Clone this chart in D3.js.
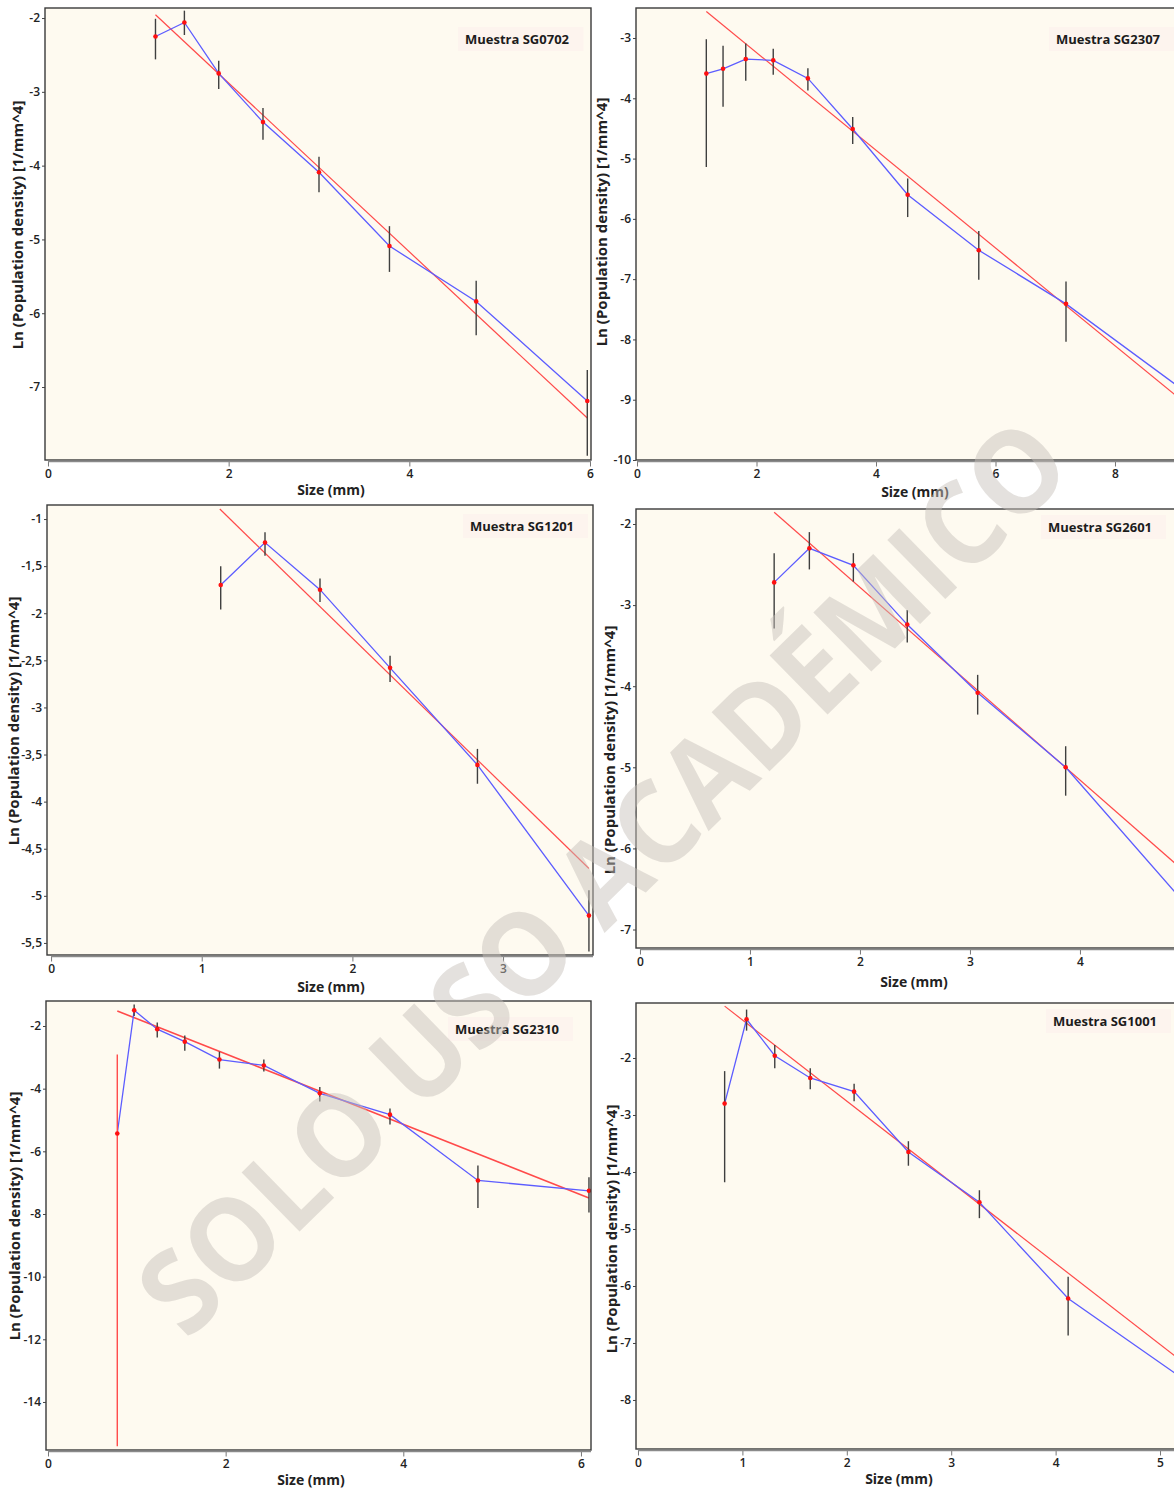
<!DOCTYPE html>
<html>
<head>
<meta charset="utf-8">
<script src="https://cdn.jsdelivr.net/npm/d3@7"></script>
<style>
  html, body { margin: 0; padding: 0; background: #ffffff; }
  svg { display: block; font-family: "Open Sans", "DejaVu Sans", sans-serif; }
</style>
</head>
<body>
<svg id="chart" width="1174" height="1491"></svg>
<script>
// ---- Crystal size distributions: ln(population density) vs size, per sample ----

// SG0702
const sizeSG0702 = [1.19, 1.51, 1.89, 2.38, 3.00, 3.78, 4.74, 5.97];
const lnSG0702   = [-2.25, -2.06, -2.75, -3.41, -4.09, -5.09, -5.84, -7.19];
const hiSG0702   = [-2.01, -1.90, -2.58, -3.22, -3.88, -4.82, -5.56, -6.77];
const loSG0702   = [-2.56, -2.23, -2.96, -3.65, -4.36, -5.44, -6.30, -7.93];
const fitSG0702  = [[1.19, -1.955], [5.97, -7.42]];
const xTicksSG0702 = [0, 2, 4, 6];
const yTicksSG0702 = [-2, -3, -4, -5, -6, -7];

// SG2307
const sizeSG2307 = [1.16, 1.44, 1.82, 2.28, 2.86, 3.61, 4.53, 5.72, 7.18, 9.40];
const lnSG2307   = [-3.59, -3.51, -3.35, -3.37, -3.67, -4.51, -5.60, -6.52, -7.41, -9.03];
const hiSG2307   = [-3.02, -3.13, -3.09, -3.18, -3.50, -4.31, -5.33, -6.20, -7.04, null];
const loSG2307   = [-5.14, -4.14, -3.71, -3.61, -3.87, -4.76, -5.97, -7.01, -8.04, null];
const fitSG2307  = [[1.16, -2.56], [9.02, -8.93]];
const xTicksSG2307 = [0, 2, 4, 6, 8];
const yTicksSG2307 = [-3, -4, -5, -6, -7, -8, -9, -10];

// SG1201
const sizeSG1201 = [1.126, 1.42, 1.785, 2.25, 2.83, 3.57];
const lnSG1201   = [-1.70, -1.25, -1.75, -2.58, -3.61, -5.21];
const hiSG1201   = [-1.50, -1.14, -1.63, -2.45, -3.44, -4.94];
const loSG1201   = [-1.96, -1.39, -1.88, -2.73, -3.81, -5.59];
const fitSG1201  = [[1.12, -0.894], [3.57, -4.71]];
const xTicksSG1201 = [0, 1, 2, 3];
const yTicksSG1201 = [-1, -1.5, -2, -2.5, -3, -3.5, -4, -4.5, -5, -5.5];

// SG2601
const sizeSG2601 = [1.22, 1.54, 1.94, 2.43, 3.07, 3.87, 5.00];
const lnSG2601   = [-2.72, -2.30, -2.51, -3.24, -4.08, -5.00, -6.75];
const hiSG2601   = [-2.36, -2.10, -2.36, -3.06, -3.86, -4.74, null];
const loSG2601   = [-3.29, -2.56, -2.71, -3.46, -4.35, -5.35, null];
const fitSG2601  = [[1.22, -1.856], [4.87, -6.19]];
const xTicksSG2601 = [0, 1, 2, 3, 4];
const yTicksSG2601 = [-2, -3, -4, -5, -6, -7];

// SG2310
const sizeSG2310 = [0.78, 0.97, 1.23, 1.54, 1.93, 2.43, 3.06, 3.85, 4.84, 6.09];
const lnSG2310   = [-5.43, -1.50, -2.10, -2.50, -3.07, -3.26, -4.15, -4.83, -6.93, -7.26];
const hiSG2310   = [-2.91, -1.31, -1.89, -2.30, -2.82, -3.07, -3.95, -4.63, -6.45, -6.83];
const loSG2310   = [-15.41, -1.68, -2.37, -2.79, -3.36, -3.45, -4.41, -5.14, -7.81, -7.95];
const fitSG2310  = [[0.78, -1.52], [6.09, -7.49]];
const xTicksSG2310 = [0, 2, 4, 6];
const yTicksSG2310 = [-2, -4, -6, -8, -10, -12, -14];

// SG1001
const sizeSG1001 = [0.83, 1.04, 1.31, 1.65, 2.07, 2.59, 3.27, 4.12, 5.40];
const lnSG1001   = [-2.80, -1.32, -1.96, -2.35, -2.59, -3.65, -4.53, -6.22, -7.86];
const hiSG1001   = [-2.23, -1.15, -1.77, -2.18, -2.45, -3.46, -4.32, -5.84, null];
const loSG1001   = [-4.18, -1.52, -2.18, -2.55, -2.76, -3.89, -4.81, -6.87, null];
const fitSG1001  = [[0.83, -1.09], [5.15, -7.24]];
const xTicksSG1001 = [0, 1, 2, 3, 4, 5];
const yTicksSG1001 = [-2, -3, -4, -5, -6, -7, -8];

const xTitle = "Size (mm)";
const yTitle = "Ln (Population density) [1/mm^4]";
const watermark = "SOLO USO ACADÉMICO";

// ---- panel layout (pixel frames, axis domains, title anchors) ----
const panels = [
  { tag: "Muestra SG0702", size: sizeSG0702, ln: lnSG0702, hi: hiSG0702, lo: loSG0702, fit: fitSG0702,
    xTicks: xTicksSG0702, yTicks: yTicksSG0702,
    frame: [45, 8, 591, 460], xDomain: [-0.033, 6.011], yDomain: [-7.989, -1.864],
    xTitleAt: [331, 490], yTitleAt: [18, 225], tagAt: [517, 39] },
  { tag: "Muestra SG2307", size: sizeSG2307, ln: lnSG2307, hi: hiSG2307, lo: loSG2307, fit: fitSG2307,
    xTicks: xTicksSG2307, yTicks: yTicksSG2307,
    frame: [636, 8, 1176, 460], xDomain: [-0.017, 9.021], yDomain: [-10.0, -2.502],
    xTitleAt: [915, 492], yTitleAt: [602, 222], tagAt: [1108, 39] },
  { tag: "Muestra SG1201", size: sizeSG1201, ln: lnSG1201, hi: hiSG1201, lo: loSG1201, fit: fitSG1201,
    xTicks: xTicksSG1201, yTicks: yTicksSG1201,
    frame: [47, 505, 593, 955], xDomain: [-0.027, 3.597], yDomain: [-5.628, -0.851],
    xTitleAt: [331, 987], yTitleAt: [14, 721], tagAt: [522, 526] },
  { tag: "Muestra SG2601", size: sizeSG2601, ln: lnSG2601, hi: hiSG2601, lo: loSG2601, fit: fitSG2601,
    xTicks: xTicksSG2601, yTicks: yTicksSG2601,
    frame: [636, 509, 1176, 948], xDomain: [-0.036, 4.873], yDomain: [-7.228, -1.815],
    xTitleAt: [914, 982], yTitleAt: [610, 750], tagAt: [1100, 527] },
  { tag: "Muestra SG2310", size: sizeSG2310, ln: lnSG2310, hi: hiSG2310, lo: loSG2310, fit: fitSG2310,
    xTicks: xTicksSG2310, yTicks: yTicksSG2310, flaggedBars: [0], fitWidth: 1.6,
    frame: [46, 1001, 591, 1450], xDomain: [-0.0225, 6.113], yDomain: [-15.533, -1.202],
    xTitleAt: [311, 1480], yTitleAt: [15, 1216], tagAt: [507, 1029] },
  { tag: "Muestra SG1001", size: sizeSG1001, ln: lnSG1001, hi: hiSG1001, lo: loSG1001, fit: fitSG1001,
    xTicks: xTicksSG1001, yTicks: yTicksSG1001,
    frame: [636, 1003, 1176, 1449], xDomain: [-0.019, 5.153], yDomain: [-8.86, -1.035],
    xTitleAt: [899, 1479], yTitleAt: [612, 1229], tagAt: [1105, 1021] }
];

const svg = d3.select("#chart");
const defs = svg.append("defs");
const fmt = d => String(d).replace(".", ",");

panels.forEach((p, i) => {
  const [left, top, right, bottom] = p.frame;
  const x = d3.scaleLinear().domain(p.xDomain).range([left, right]);
  const y = d3.scaleLinear().domain(p.yDomain).range([bottom, top]);
  const g = svg.append("g").attr("class", "panel");

  g.append("rect")
    .attr("x", left).attr("y", top)
    .attr("width", right - left).attr("height", bottom - top)
    .attr("fill", "#fefaf0");

  defs.append("clipPath").attr("id", "plot-clip-" + i)
    .append("rect")
    .attr("x", left).attr("y", top)
    .attr("width", right - left).attr("height", bottom - top);

  const plot = g.append("g").attr("clip-path", `url(#plot-clip-${i})`);

  const pts = p.size.map((s, k) => ({ s, v: p.ln[k], hi: p.hi[k], lo: p.lo[k], k }));

  // fitted straight line
  plot.append("line")
    .attr("x1", x(p.fit[0][0])).attr("y1", y(p.fit[0][1]))
    .attr("x2", x(p.fit[1][0])).attr("y2", y(p.fit[1][1]))
    .attr("stroke", "#ff4a4a").attr("stroke-width", p.fitWidth || 1.2);

  // measured distribution
  plot.append("path")
    .datum(pts)
    .attr("fill", "none")
    .attr("stroke", "#5c5cff")
    .attr("stroke-width", 1.3)
    .attr("d", d3.line().x(d => x(d.s)).y(d => y(d.v)));

  // error bars
  const flagged = p.flaggedBars || [];
  plot.selectAll("line.err")
    .data(pts.filter(d => d.hi !== null))
    .join("line")
    .attr("class", "err")
    .attr("x1", d => x(d.s)).attr("x2", d => x(d.s))
    .attr("y1", d => y(d.hi)).attr("y2", d => y(d.lo))
    .attr("stroke", d => flagged.includes(d.k) ? "#ff4a4a" : "#3f3f3f")
    .attr("stroke-width", 1.4);

  // points
  plot.selectAll("circle.pt")
    .data(pts)
    .join("circle")
    .attr("class", "pt")
    .attr("cx", d => x(d.s)).attr("cy", d => y(d.v))
    .attr("r", 2.3)
    .attr("fill", "#ff1010");

  // frame
  g.append("rect")
    .attr("x", left).attr("y", top)
    .attr("width", right - left).attr("height", bottom - top)
    .attr("fill", "none").attr("stroke", "#3a3a3a").attr("stroke-width", 1.4);

  // x axis
  const xAxis = g.append("g")
    .attr("transform", `translate(0,${bottom + 1.5})`)
    .call(d3.axisBottom(x).tickValues(p.xTicks).tickFormat(fmt).tickSize(5).tickPadding(3).tickSizeOuter(0));
  xAxis.select(".domain").remove();
  xAxis.append("line")
    .attr("x1", x(0)).attr("x2", right)
    .attr("stroke", "#8a8a8a").attr("stroke-width", 1.6);
  xAxis.selectAll(".tick line").attr("stroke", "#777");
  xAxis.selectAll(".tick text")
    .attr("fill", "#222").attr("font-size", 12).attr("font-weight", 600)
    .attr("font-family", "\"Open Sans\", sans-serif");

  // y axis
  const yAxis = g.append("g")
    .attr("transform", `translate(${left},0)`)
    .call(d3.axisLeft(y).tickValues(p.yTicks).tickFormat(fmt).tickSize(3).tickPadding(2).tickSizeOuter(0));
  yAxis.select(".domain").remove();
  yAxis.selectAll(".tick line").attr("stroke", "#444");
  yAxis.selectAll(".tick text")
    .attr("fill", "#222").attr("font-size", 12).attr("font-weight", 600)
    .attr("font-family", "\"Open Sans\", sans-serif");

  // axis titles
  g.append("text")
    .attr("x", p.xTitleAt[0]).attr("y", p.xTitleAt[1]).attr("dy", "0.35em")
    .attr("text-anchor", "middle")
    .attr("font-size", 14).attr("font-weight", 700).attr("fill", "#222")
    .text(xTitle);
  g.append("text")
    .attr("transform", `translate(${p.yTitleAt[0]},${p.yTitleAt[1]}) rotate(-90)`)
    .attr("dy", "0.35em")
    .attr("text-anchor", "middle")
    .attr("font-size", 15).attr("font-weight", 700).attr("fill", "#222")
    .text(yTitle);

  // sample tag
  const tagG = g.append("g");
  const tagText = tagG.append("text")
    .attr("x", p.tagAt[0]).attr("y", p.tagAt[1]).attr("dy", "0.35em")
    .attr("text-anchor", "middle")
    .attr("font-size", 13).attr("font-weight", 700).attr("fill", "#1c1c1c")
    .text(p.tag);
  const bb = tagText.node().getBBox();
  tagG.insert("rect", "text")
    .attr("x", bb.x - 7).attr("y", p.tagAt[1] - 12)
    .attr("width", bb.width + 21).attr("height", 24)
    .attr("fill", "#fdf4ee");
});

// diagonal watermark across the sheet
svg.append("text")
  .attr("transform", "translate(603,877) rotate(-44.4)")
  .attr("y", 41)
  .attr("text-anchor", "middle")
  .attr("font-size", 116)
  .attr("font-weight", 700)
  .attr("fill", "#c6c1b9")
  .attr("fill-opacity", 0.48)
  .attr("textLength", 1245)
  .attr("lengthAdjust", "spacingAndGlyphs")
  .text(watermark);
</script>
</body>
</html>
